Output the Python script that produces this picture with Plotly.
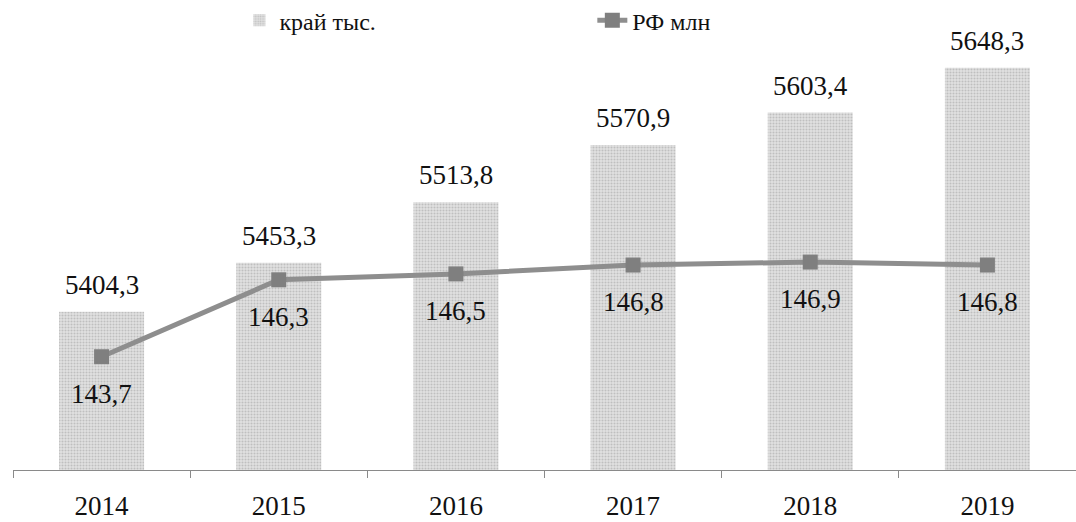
import plotly.graph_objects as go

years = ["2014", "2015", "2016", "2017", "2018", "2019"]
krai_thous = [5404.3, 5453.3, 5513.8, 5570.9, 5603.4, 5648.3]
rf_mln = [143.7, 146.3, 146.5, 146.8, 146.9, 146.8]
bar_name = "край тыс."
line_name = "РФ млн"

FONT = "Times New Roman, Liberation Serif, serif"

def fmt(v):
    return f"{v:.1f}".replace(".", ",")

fig = go.Figure()
fig.add_trace(go.Bar(
    x=years, y=krai_thous, name=bar_name, legend="legend",
    marker=dict(color="#dcdcdc", line=dict(width=0),
                pattern=dict(shape=".", bgcolor="#e2e2e2", fgcolor="#9c9c9c",
                             size=3, solidity=0.4)),
    hoverinfo="skip",
))
fig.add_trace(go.Scatter(
    x=years, y=rf_mln, name=line_name, yaxis="y2", legend="legend2",
    mode="lines+markers",
    line=dict(color="#8e8e8e", width=5),
    marker=dict(symbol="square", size=15, color="#7f7f7f"),
    hoverinfo="skip",
))

annotations = []
for i, v in enumerate(krai_thous):
    annotations.append(dict(x=i, y=v, xref="x", yref="y", text=fmt(v),
                            showarrow=False, yanchor="middle", yshift=27,
                            font=dict(family=FONT, size=27, color="#111")))
for i, v in enumerate(rf_mln):
    annotations.append(dict(x=i, y=v, xref="x", yref="y2", text=fmt(v),
                            showarrow=False, yanchor="middle", yshift=-37,
                            font=dict(family=FONT, size=27, color="#111")))

fig.update_layout(
    width=1076, height=522,
    margin=dict(l=13, r=0, t=50, b=52, autoexpand=False),
    plot_bgcolor="white", paper_bgcolor="white",
    font=dict(family=FONT, size=27, color="#111"),
    separators=", ",
    bargap=0.52,
    showlegend=True,
    xaxis=dict(type="category", showline=True, linecolor="#8a8a8a", linewidth=1,
               ticks="outside", tickson="boundaries", ticklen=7, tickcolor="#8a8a8a",
               range=[-0.5, len(years) - 0.5], tickangle=0, automargin=False,
               ticklabelstandoff=12,
               showgrid=False, tickfont=dict(family=FONT, size=27, color="#111")),
    yaxis=dict(range=[5246, 5666], visible=False, showgrid=False),
    yaxis2=dict(range=[139.87, 154.07], overlaying="y", side="right",
                visible=False, showgrid=False),
    legend=dict(orientation="h", x=0.213, y=1.07, xanchor="left", yanchor="middle",
                font=dict(family=FONT, size=24, color="#111"), bgcolor="rgba(0,0,0,0)"),
    legend2=dict(orientation="h", x=0.545, y=1.07, xanchor="left", yanchor="middle",
                 font=dict(family=FONT, size=24, color="#111"), bgcolor="rgba(0,0,0,0)"),
    annotations=annotations,
)

fig.write_html("out.html", config={"displayModeBar": False},
               post_script="document.body.style.margin='0px';")
